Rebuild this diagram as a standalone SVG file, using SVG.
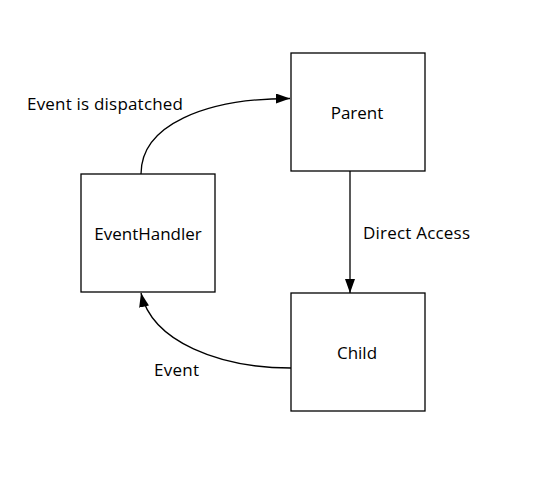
<svg xmlns="http://www.w3.org/2000/svg" width="552" height="477" viewBox="0 0 552 477">
<style>
.box{fill:#fff;stroke:#000;stroke-width:1.3}
.t{font-family:"Open Sans","Noto Sans",sans-serif;font-size:17px;fill:#000}
.c{text-anchor:middle;dominant-baseline:central}
.e{fill:none;stroke:#000;stroke-width:1.3}
</style>
<defs>
<marker id="ah" viewBox="0 0 14 10" refX="14" refY="5" markerWidth="14" markerHeight="10" markerUnits="userSpaceOnUse" orient="auto">
<path d="M0,0 L14,5 L0,10 Z" fill="#000"/>
</marker>
</defs>
<rect width="552" height="477" fill="#fff"/>
<g id="connectors">
<path class="e" d="M141,174 C141,125 205,98.5 290,98.5" marker-end="url(#ah)"/>
<path class="e" d="M350,171 L350,293" marker-end="url(#ah)"/>
<path class="e" d="M291,368 C220,368 152,342 141,293" marker-end="url(#ah)"/>
<text class="t" x="27" y="110" textLength="156">Event is dispatched</text>
<text class="t" x="363" y="239" textLength="107">Direct Access</text>
<text class="t" x="154" y="376" textLength="45">Event</text>
</g>
<g id="parent">
<rect class="box" x="291" y="53" width="134" height="118"/>
<text class="t c" x="357" y="112">Parent</text>
</g>
<g id="eventhandler">
<rect class="box" x="81" y="174" width="134" height="118"/>
<text class="t c" x="148" y="233">EventHandler</text>
</g>
<g id="child">
<rect class="box" x="291" y="293" width="134" height="118"/>
<text class="t c" x="357" y="352">Child</text>
</g>
</svg>
